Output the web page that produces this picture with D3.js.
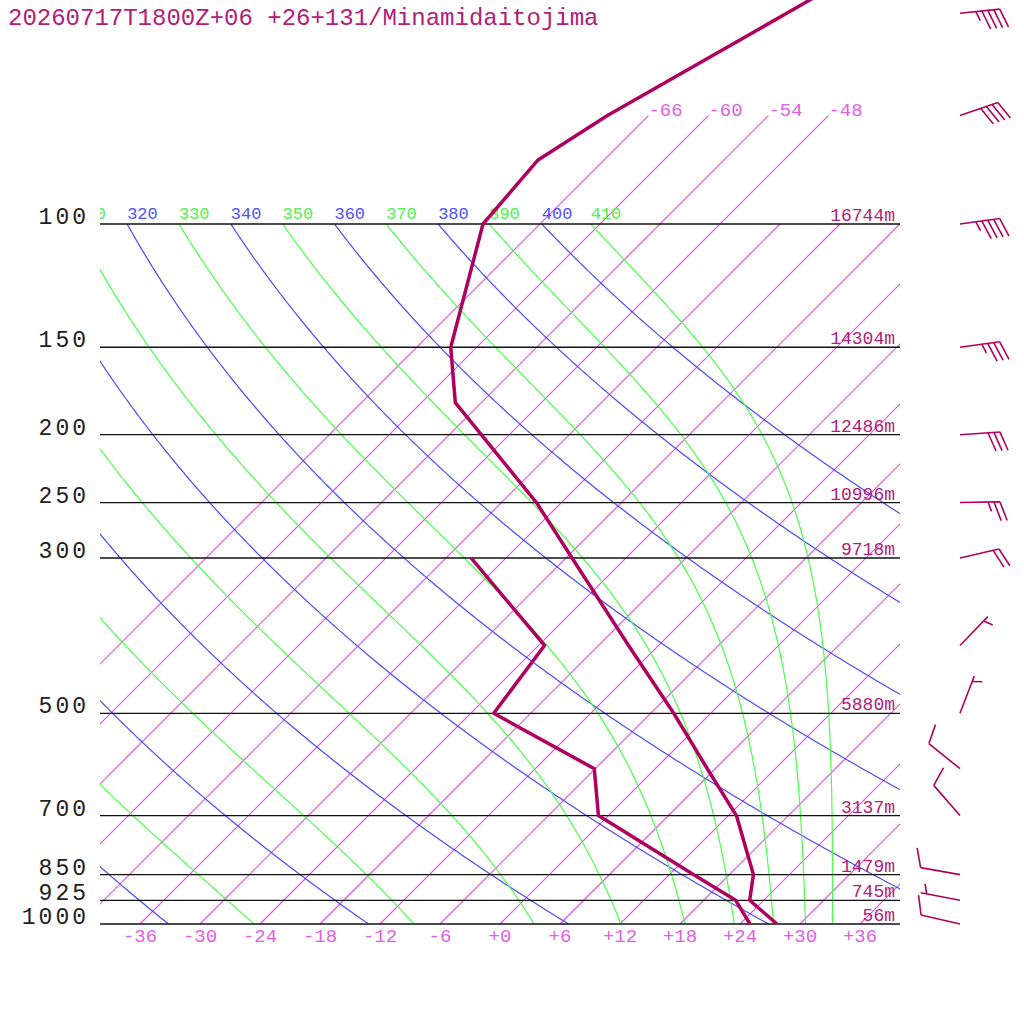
<!DOCTYPE html>
<html>
<head>
<meta charset="utf-8">
<script src="https://cdn.jsdelivr.net/npm/d3@7"></script>
<style>
body { margin: 0; background: #fff; }
text { font-family: 'Liberation Mono', monospace; }
</style>
</head>
<body>
<div id="chartbox"></div>
<script>
const title = '20260717T1800Z+06 +26+131/Minamidaitojima'

// pressure lines and standard heights
const levels = [1000, 925, 850, 700, 500, 300, 250, 200, 150, 100]
const heights = ['56m', '745m', '1479m', '3137m', '5880m', '9718m', '10996m', '12486m', '14304m', '16744m']

// background grid
const tempTicks = d3.range(-36, 37, 6)
const isotherms = d3.range(-66, 37, 6)
const isothermsTop = [-66, -60, -54, -48]
const dryTheta = [240, 260, 280, 300, 320, 340, 360, 380, 400]
const moistThetaE = [250, 270, 290, 310, 330, 350, 370, 390, 410]

// sounding
const tempP = [1000, 925, 850, 700, 600, 500, 400, 300, 250, 200, 180, 150, 100, 81, 70, 50, 30]
const tempC = [27.7, 22.6, 20.4, 12.8, 5.2, -3.7, -15.0, -29.4, -38.5, -50.8, -56.6, -62.6, -71.7, -72.6, -70.1, -62.4, -51.0]
const dewP = [1000, 925, 850, 700, 600, 500, 400, 300]
const dewC = [25.0, 21.2, 14.4, -1.0, -6.1, -21.7, -23.4, -39.5]

// winds
const windP = [1000, 925, 850, 700, 600, 500, 400, 300, 250, 200, 150, 100, 70, 50]
const windDir = [283, 281, 280, 319, 309, 21, 44, 77, 89, 86, 82, 82, 71, 84]
const windKt = [10, 5, 10, 10, 10, 5, 5, 20, 25, 30, 35, 45, 40, 45]

const purple = '#b0005e'
const pink = '#e060e0'
const magenta = '#e84ce8'
const blue = '#4a4aff'
const green = '#4aff4a'

const svg = d3.select('#chartbox')
  .append('svg')
  .attr('width', 1024)
  .attr('height', 1024)

const y = d3.scaleLog().domain([1000, 100]).range([924, 224])
const x = d3.scaleLinear().domain([-40, 40]).range([100, 900])
const skewX = (t, p) => x(t) + (y(1000) - y(p))

svg.append('clipPath')
  .attr('id', 'box')
  .append('rect')
  .attr('x', 100)
  .attr('y', 0)
  .attr('width', 800)
  .attr('height', y(1000))

const grid = svg.append('g')
  .attr('clip-path', 'url(#box)')

const line = d3.line().x(d => d[0]).y(d => d[1])
const pSteps = d3.range(0, 241).map(i => 1000 * Math.pow(0.1, i / 240))

// isotherms
grid.selectAll('path.isotherm')
  .data(isotherms)
  .enter()
  .append('path')
  .attr('class', 'isotherm')
  .attr('d', t => {
    const top = isothermsTop.includes(t) ? 70 : 100
    return line([[skewX(t, 1000), y(1000)], [skewX(t, top), y(top)]])
  })
  .style('fill', 'none')
  .style('stroke', magenta)
  .style('stroke-width', 1.2)

svg.selectAll('text.isolabel')
  .data(isothermsTop)
  .enter()
  .append('text')
  .attr('class', 'isolabel')
  .attr('x', t => skewX(t, 70))
  .attr('y', y(70))
  .attr('font-size', 19)
  .attr('fill', pink)
  .text(t => t)

// dry adiabats
const kappa = 0.2854
const dryT = (theta, p) => theta * Math.pow(p / 1000, kappa) - 273.15

grid.selectAll('path.dry')
  .data(dryTheta)
  .enter()
  .append('path')
  .attr('class', 'dry')
  .attr('d', th => line(pSteps.map(p => [skewX(dryT(th, p), p), y(p)])))
  .style('fill', 'none')
  .style('stroke', blue)
  .style('stroke-width', 1.2)

// moist adiabats (Bolton theta-e)
const thetaE = (tk, p) => {
  const tc = tk - 273.15
  const es = 6.112 * Math.exp(17.67 * tc / (tc + 243.5))
  const r = 622 * es / (p - es)
  return tk * Math.pow(1000 / p, kappa * (1 - 0.00028 * r)) *
    Math.exp((3.376 / tk - 0.00254) * r * (1 + 0.00081 * r))
}
const moistT = (the, p) => {
  let lo = 150, hi = 330
  for (let i = 0; i < 50; i++) {
    const mid = (lo + hi) / 2
    if (thetaE(mid, p) < the) lo = mid
    else hi = mid
  }
  return (lo + hi) / 2 - 273.15
}

grid.selectAll('path.moist')
  .data(moistThetaE)
  .enter()
  .append('path')
  .attr('class', 'moist')
  .attr('d', th => line(pSteps.map(p => [skewX(moistT(th, p), p), y(p)])))
  .style('fill', 'none')
  .style('stroke', green)
  .style('stroke-width', 1.2)

const thetaLabels = dryTheta.map(th => ({ v: th, tx: dryT(th, 100), c: '#5050ff' }))
  .concat(moistThetaE.map(th => ({ v: th, tx: moistT(th, 100), c: '#50f050' })))
  .filter(d => skewX(d.tx, 100) > 60)

grid.selectAll('text.thlabel')
  .data(thetaLabels)
  .enter()
  .append('text')
  .attr('class', 'thlabel')
  .attr('x', d => skewX(d.tx, 100))
  .attr('y', y(100) - 5)
  .attr('font-size', 17)
  .attr('fill', d => d.c)
  .text(d => d.v)

// pressure lines
svg.selectAll('line.plevel')
  .data(levels)
  .enter()
  .append('line')
  .attr('class', 'plevel')
  .attr('x1', 100)
  .attr('x2', 900)
  .attr('y1', p => y(p))
  .attr('y2', p => y(p))
  .style('stroke', '#111')
  .style('stroke-width', 1.3)

svg.selectAll('text.plabel')
  .data(levels)
  .enter()
  .append('text')
  .attr('class', 'plabel')
  .attr('x', 89)
  .attr('y', p => y(p))
  .attr('text-anchor', 'end')
  .attr('font-family', 'Liberation Sans')
  .attr('font-size', 23)
  .attr('letter-spacing', 3)
  .attr('fill', '#222')
  .text(p => p)

svg.selectAll('text.hlabel')
  .data(levels)
  .enter()
  .append('text')
  .attr('class', 'hlabel')
  .attr('x', 895)
  .attr('y', p => y(p) - 3)
  .attr('text-anchor', 'end')
  .attr('font-size', 18)
  .attr('fill', '#b0207a')
  .text((p, i) => heights[i])

svg.selectAll('text.tlabel')
  .data(tempTicks)
  .enter()
  .append('text')
  .attr('class', 'tlabel')
  .attr('x', t => x(t))
  .attr('y', 942)
  .attr('text-anchor', 'middle')
  .attr('font-size', 19)
  .attr('fill', pink)
  .text(t => t >= 0 ? '+' + t : t)

// sounding lines
svg.append('path')
  .attr('d', line(tempP.map((p, i) => [skewX(tempC[i], p), y(p)])))
  .style('fill', 'none')
  .style('stroke', purple)
  .style('stroke-width', 3.5)
  .style('stroke-linejoin', 'round')

svg.append('path')
  .attr('d', line(dewP.map((p, i) => [skewX(dewC[i], p), y(p)])))
  .style('fill', 'none')
  .style('stroke', purple)
  .style('stroke-width', 3.5)
  .style('stroke-linejoin', 'round')

// wind barbs
const barbs = svg.append('g')
  .style('stroke', purple)
  .style('stroke-width', 1.6)
  .style('fill', 'none')

windP.forEach((p, i) => {
  const a = windDir[i] * Math.PI / 180
  const ux = Math.sin(a), uy = -Math.cos(a)
  const ox = 960, oy = y(p)
  const tx = ox + 40 * ux, ty = oy + 40 * uy
  const r = 70 * Math.PI / 180
  const bx = ux * Math.cos(r) - uy * Math.sin(r)
  const by = ux * Math.sin(r) + uy * Math.cos(r)
  barbs.append('line')
    .attr('x1', ox).attr('y1', oy)
    .attr('x2', tx).attr('y2', ty)
  const full = Math.floor(windKt[i] / 10)
  const half = (windKt[i] % 10) >= 5 ? 1 : 0
  let k = full === 0 ? 1 : 0
  for (let j = 0; j < full + half; j++, k++) {
    const len = j < full ? 20 : 10
    const sx = tx - 6 * k * ux, sy = ty - 6 * k * uy
    barbs.append('line')
      .attr('x1', sx).attr('y1', sy)
      .attr('x2', sx + len * bx).attr('y2', sy + len * by)
  }
})

svg.append('text')
  .attr('x', 8)
  .attr('y', 25)
  .attr('font-size', 24)
  .attr('fill', '#b0207a')
  .text(title)
</script>
</body>
</html>
